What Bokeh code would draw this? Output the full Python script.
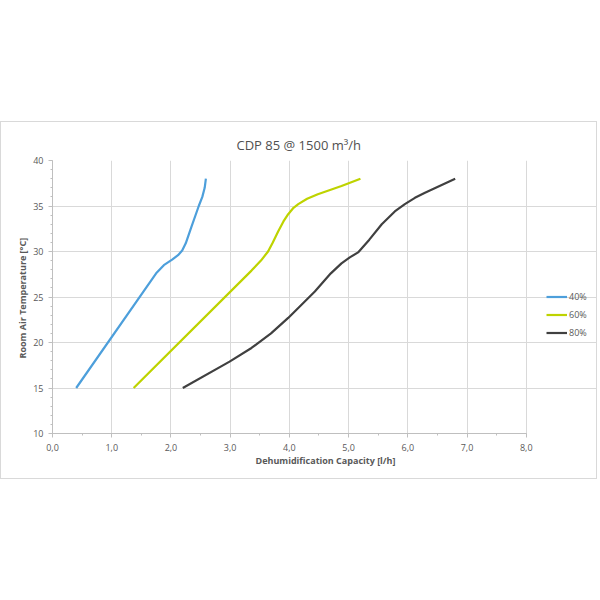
from bokeh.plotting import figure
from bokeh.models import (Range1d, FixedTicker, CustomJSTickFormatter, Legend, LegendItem,
                          Title, Spacer)
from bokeh.layouts import column
from bokeh.embed import file_html
from bokeh.resources import INLINE

# Data (Dehumidification capacity l/h vs room temperature °C)
x40 = [0.4, 1.75, 1.88, 2.02, 2.12, 2.19, 2.25, 2.34, 2.47, 2.53, 2.57, 2.59]
y40 = [15, 27.6, 28.5, 29.1, 29.6, 30.1, 30.9, 32.6, 35.0, 36.0, 37.0, 38]

x60 = [1.37, 3.36, 3.52, 3.64, 3.72, 3.81, 3.9, 3.98, 4.07, 4.15, 4.3, 4.48, 4.88, 5.2]
y60 = [15, 27.9, 29.0, 30.0, 31.0, 32.2, 33.3, 34.1, 34.8, 35.2, 35.8, 36.3, 37.2, 38]

x80 = [2.2, 2.99, 3.36, 3.69, 3.98, 4.43, 4.7, 4.88, 5.02, 5.16, 5.35, 5.56, 5.78, 5.95, 6.12, 6.29, 6.8]
y80 = [15, 17.9, 19.4, 21.0, 22.7, 25.6, 27.6, 28.7, 29.35, 29.9, 31.3, 33.0, 34.4, 35.2, 35.9, 36.45, 38]

series_labels = ["40%", "60%", "80%"]
series_colors = ["#4D9FDB", "#BED300", "#404040"]

x_ticks = [0, 1, 2, 3, 4, 5, 6, 7, 8]
y_ticks = [10, 15, 20, 25, 30, 35, 40]

FONT = "Open Sans"
GRAY = "#595959"

# the frame runs on to the right edge so the legend (inside the frame) is not clipped;
# axis line and horizontal grid lines stop at 8
p = figure(width=597, height=358, output_backend="svg", toolbar_location=None,
           x_range=Range1d(0, 9.22), y_range=Range1d(10, 40),
           min_border_left=51, min_border_right=0, min_border_top=38, min_border_bottom=47)
p.styles = {"border": "1px solid #d9d9d9"}
p.outline_line_color = None
p.background_fill_color = "white"
p.border_fill_color = "white"

title = Title(text="CDP 85 @ 1500 m³/h", align="left", text_font=FONT,
              text_font_size="13px", text_font_style="normal", text_color="#505050",
              standoff=14, offset=184)
p.add_layout(title, "above")

renderers = []
for xs, ys, c in zip([x40, x60, x80], [y40, y60, y80], series_colors):
    r = p.line(xs, ys, line_color=c, line_width=2.2, line_join="round")
    renderers.append(r)

fmt = CustomJSTickFormatter(code="return tick.toFixed(1).replace('.', ',');")
p.xaxis.ticker = FixedTicker(ticks=x_ticks, minor_ticks=[i * 0.5 for i in range(17)])
p.xaxis.formatter = fmt
p.xaxis.bounds = (0, 8)
p.yaxis.ticker = FixedTicker(ticks=y_ticks, minor_ticks=list(range(10, 41)))

for ax in (p.xaxis[0], p.yaxis[0]):
    ax.axis_line_color = "#bfbfbf"
    ax.major_tick_line_color = "#bfbfbf"
    ax.minor_tick_line_color = "#bfbfbf"
    ax.major_tick_out = 4
    ax.major_tick_in = 0
    ax.minor_tick_out = 2
    ax.minor_tick_in = 0
    ax.major_label_text_font = FONT
    ax.major_label_text_font_size = "9px"
    ax.major_label_text_color = GRAY
    ax.axis_label_text_font = FONT
    ax.axis_label_text_font_size = "9px"
    ax.axis_label_text_font_style = "bold"
    ax.axis_label_text_color = GRAY

p.xaxis.axis_label = "Dehumidification Capacity [l/h]"
p.yaxis.axis_label = "Room Air  Temperature [°C]"
p.xaxis.major_label_standoff = 6
p.yaxis.major_label_standoff = 5
p.xaxis.axis_label_standoff = 0
p.yaxis.axis_label_standoff = 1

p.xgrid.ticker = FixedTicker(ticks=x_ticks)
p.ygrid.ticker = FixedTicker(ticks=y_ticks)
p.ygrid.bounds = (0, 8)
p.xgrid.grid_line_color = "#d9d9d9"
p.ygrid.grid_line_color = "#d9d9d9"

legend = Legend(items=[LegendItem(label=l, renderers=[r]) for l, r in zip(series_labels, renderers)],
                location=(494, 92), orientation="vertical",
                glyph_width=21, glyph_height=17, label_height=17, label_standoff=2,
                spacing=1, padding=0, margin=0,
                border_line_color=None, background_fill_alpha=0,
                label_text_font=FONT, label_text_font_size="9px", label_text_color=GRAY)
p.add_layout(legend, "center")

layout = column(Spacer(height=121, width=597), p)
open("out.html", "w").write(file_html(layout, INLINE))
